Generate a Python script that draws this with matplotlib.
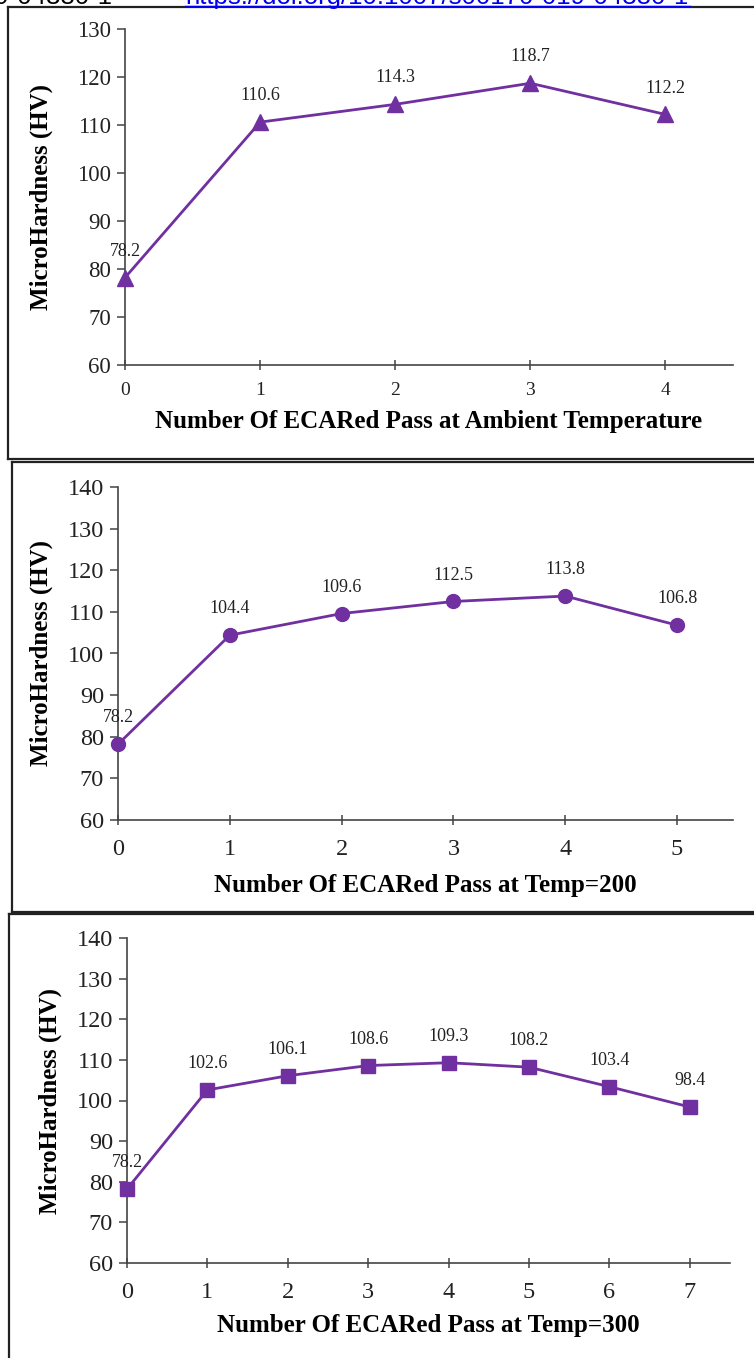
import matplotlib
matplotlib.use('Agg')
from matplotlib import pyplot as plt
from matplotlib.lines import Line2D

plt.rcParams['font.family'] = ['Liberation Serif', 'DejaVu Serif']

# microhardness after each ECAR pass
passes_ambient = [0, 1, 2, 3, 4]
hv_ambient = [78.2, 110.6, 114.3, 118.7, 112.2]

passes_200 = [0, 1, 2, 3, 4, 5]
hv_200 = [78.2, 104.4, 109.6, 112.5, 113.8, 106.8]

passes_300 = [0, 1, 2, 3, 4, 5, 6, 7]
hv_300 = [78.2, 102.6, 106.1, 108.6, 109.3, 108.2, 103.4, 98.4]

xlabels = ['Number Of ECARed Pass at Ambient Temperature',
           'Number Of ECARed Pass at Temp=200',
           'Number Of ECARed Pass at Temp=300']

W, H = 754, 1358
purple = '#7030A0'
fig = plt.figure(figsize=(W / 100, H / 100), dpi=100)


def px(x, y):
    # pixel position (from top-left) to figure fraction
    return x / W, 1 - y / H


def box(x0, x1, y0, y1):
    return fig.add_axes([x0 / W, 1 - y1 / H, (x1 - x0) / W, (y1 - y0) / H])


def panel(ax, xs, ys, marker, ms, ytop, xtick_size, ytick_size, xpad):
    ax.plot(xs, ys, color=purple, lw=2, marker=marker, ms=ms,
            markerfacecolor=purple, markeredgecolor=purple, clip_on=False, zorder=3)
    for x, y in zip(xs, ys):
        ax.annotate('%.1f' % y, (x, y), xytext=(0, 19), textcoords='offset points',
                    ha='center', va='center', fontsize=13, color='#222222')
    ax.set_xlim(0, xs[-1] + 0.5)
    ax.set_ylim(60, ytop)
    ax.set_xticks(xs)
    ax.set_yticks(range(60, ytop + 1, 10))
    for s in ['top', 'right']:
        ax.spines[s].set_visible(False)
    for s in ['left', 'bottom']:
        ax.spines[s].set_color('#444444')
        ax.spines[s].set_linewidth(1.2)
    ax.tick_params(axis='y', direction='out', length=6, width=1.1, color='#444444',
                   labelsize=ytick_size, pad=4, labelcolor='#222222')
    ax.tick_params(axis='x', direction='inout', length=7, width=1.1, color='#444444',
                   labelsize=xtick_size, pad=xpad, labelcolor='#222222')
    ax.set_ylabel('MicroHardness (HV)', fontsize=18, fontweight='bold')
    ax.patch.set_alpha(0)


ax1 = box(125, 733, 29, 365)
panel(ax1, passes_ambient, hv_ambient, '^', 11, 130, 14, 16.5, 9)
ax1.set_xlabel(xlabels[0], fontsize=18, fontweight='bold', labelpad=8)
ax1.yaxis.set_label_coords(-0.118, 0.5)

ax2 = box(118, 733, 487, 820)
panel(ax2, passes_200, hv_200, 'o', 10, 140, 17.5, 17.5, 10)
ax2.set_xlabel(xlabels[1], fontsize=18, fontweight='bold', labelpad=10)
ax2.yaxis.set_label_coords(-0.106, 0.5)

ax3 = box(127, 730, 938, 1263)
panel(ax3, passes_300, hv_300, 's', 10.5, 140, 17.5, 17.5, 10)
ax3.set_xlabel(xlabels[2], fontsize=18, fontweight='bold', labelpad=8)
ax3.yaxis.set_label_coords(-0.108, 0.5)

# frames around the three panels
frames = [
    [(8, 7), (754, 7)], [(8, 7), (8, 459)], [(8, 459), (754, 459)],
    [(12, 462), (754, 462)], [(12, 462), (12, 912)], [(12, 912), (754, 912)],
    [(9, 914), (754, 914)], [(9, 914), (9, 1358)],
]
for (xa, ya), (xb, yb) in frames:
    (fa, ga), (fb, gb) = px(xa, ya), px(xb, yb)
    fig.add_artist(Line2D([fa, fb], [ga, gb], color='#222222', lw=1.6))

# citation strip cut off at the top edge
fig.text(*px(112, 4), '19-04380-1', fontsize=18.5, family='Liberation Sans',
         ha='right', va='baseline', color='black')
fig.text(*px(185, 4), 'https://doi.org/10.1007/s00170-019-04380-1', fontsize=18.5,
         family='Liberation Sans', ha='left', va='baseline', color='#0000EE')
(ua, va_), (ub, vb) = px(185, 5.5), px(690, 5.5)
fig.add_artist(Line2D([ua, ub], [va_, vb], color='#0000EE', lw=1))

fig.savefig('out.png', dpi=100)
